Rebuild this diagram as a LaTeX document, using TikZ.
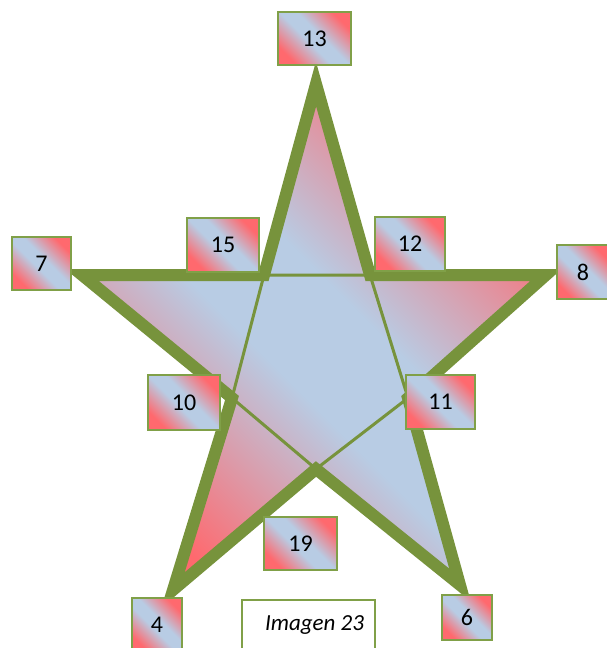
\documentclass[tikz,border=0pt]{standalone}
\usepackage{fontspec}
\setmainfont{Carlito}
\usetikzlibrary{positioning}
\definecolor{starGreen}{RGB}{119,147,60}
\definecolor{boxGreen}{RGB}{128,160,72}
\definecolor{boxRed}{RGB}{255,105,110}
\definecolor{boxBlue}{RGB}{184,204,228}
\pgfdeclarehorizontalshading{redblue}{100bp}{color(0bp)=(boxRed); color(25bp)=(boxRed); color(45bp)=(boxBlue); color(55bp)=(boxBlue); color(75bp)=(boxRed); color(100bp)=(boxRed)}

\begin{document}
\begin{tikzpicture}[x=1pt, y=-1pt, every node/.style={font=\fontsize{24}{26}\selectfont},
  numbox/.style={draw=boxGreen, line width=1.8pt, shading=redblue, shading angle=45, minimum width=72pt, minimum height=54pt, inner sep=0pt},
  capbox/.style={draw=boxGreen, line width=1.8pt, fill=white, minimum width=133pt, minimum height=50pt, inner sep=0pt, font=\fontsize{23}{25}\selectfont\itshape}]
		\useasboundingbox (0,0) rectangle (606,648);
		% Star points
		\coordinate (oT) at (316,84);
		\coordinate (iTR) at (370,275);
		\coordinate (oR) at (546,275);
		\coordinate (iR) at (408,398);
		\coordinate (oBR) at (460,585);
		\coordinate (iB) at (316,469);
		\coordinate (oBL) at (173,590);
		\coordinate (iL) at (232,398);
		\coordinate (oL) at (82,275);
		\coordinate (iTL) at (264,275);
		% Star body
		\shade[shading=redblue, shading angle=45] (oT) -- (iTR) -- (oR) -- (iR) -- (oBR) -- (iB) -- (oBL) -- (iL) -- (oL) -- (iTL) -- cycle;
		\draw[starGreen, line width=3pt] (iTL) -- (iTR) -- (iR) -- (iB) -- (iL) -- cycle;
		\draw[starGreen, line width=12pt, line join=miter] (oT) -- (iTR) -- (oR) -- (iR) -- (oBR) -- (iB) -- (oBL) -- (iL) -- (oL) -- (iTL) -- cycle;
		% Number boxes
		\node[numbox, minimum width=73pt, minimum height=53pt] (n13) at (314.5,38.5) {13};
		\node[numbox, minimum width=59pt, minimum height=53pt] (n7) at (41.5,263.5) {7};
		\node[numbox] (n15) at (223,245) {15};
		\node[numbox, minimum width=70pt] (n12) at (410,244) {12};
		\node[numbox, minimum height=55pt] (n10) at (184,402.5) {10};
		\node[numbox, minimum width=69pt] (n11) at (440.5,402) {11};
		\node[numbox, minimum width=52pt] (n8) at (583,272) {8};
		\node[numbox, minimum width=73pt, minimum height=53pt] (n19) at (300.5,543.5) {19};
		\node[numbox, minimum width=50pt, minimum height=53pt] (n4) at (157,624.5) {4};
		\node[numbox, minimum width=50pt, minimum height=45pt] (n6) at (467,617.5) {6};
		% Caption
		\node[capbox] (cap) at (308.5,625) {\hspace*{12pt}Imagen 23};
	\end{tikzpicture}
\end{document}
